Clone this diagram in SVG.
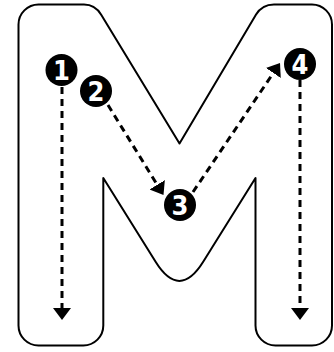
<svg xmlns="http://www.w3.org/2000/svg" width="334" height="352" viewBox="0 0 334 352">
<style>
.outline{fill:#fff;stroke:#000;stroke-width:2;stroke-linejoin:round}
.dash{fill:none;stroke:#000;stroke-width:3;stroke-dasharray:7 5}
.dot{fill:#000}
.num{fill:#fff;font-family:"DejaVu Sans",sans-serif;font-weight:bold;font-stretch:condensed;font-size:27px;text-anchor:middle}
</style>
<defs>
<marker id="ah" markerUnits="userSpaceOnUse" markerWidth="14" markerHeight="20" refX="0" refY="9" orient="auto" viewBox="0 0 14 18">
<path d="M0,0 L12,9 L0,18 Z" fill="#000"/>
</marker>
</defs>
<g id="letter-m">
<path class="outline" d="M18.5 325.5 L18.5 24.5 A20 20 0 0 1 38.5 4.5 L84 4.5 Q95 4.5 101.2 14.7 L179.5 143.5 L255.9 14.8 Q262 4.5 274 4.5 L312 4.5 A20 20 0 0 1 332 24.5 L332 325.5 A20 20 0 0 1 312 345.5 L275.5 345.5 A20 20 0 0 1 255.5 325.5 L255.5 178 L203.2 261.8 Q179.4 300 155.6 261.8 L103.3 178 L103.3 325.5 A20 20 0 0 1 83.3 345.5 L38.5 345.5 A20 20 0 0 1 18.5 325.5 Z"/>
</g>
<g id="connectors">
<line class="dash" x1="62" y1="87" x2="62" y2="308" marker-end="url(#ah)"/>
<line class="dash" x1="108" y1="105" x2="157.2" y2="184.8" marker-end="url(#ah)"/>
<line class="dash" x1="193" y1="192" x2="273.3" y2="73" marker-end="url(#ah)"/>
<line class="dash" x1="300" y1="80" x2="300" y2="308" marker-end="url(#ah)"/>
</g>
<g id="node-1"><circle class="dot" cx="61.5" cy="70" r="16"/><text class="num" x="61.5" y="80">1</text></g>
<g id="node-2"><circle class="dot" cx="96" cy="91" r="16"/><text class="num" x="96" y="101">2</text></g>
<g id="node-3"><circle class="dot" cx="180" cy="205" r="16"/><text class="num" x="180" y="215">3</text></g>
<g id="node-4"><circle class="dot" cx="300" cy="64" r="16"/><text class="num" x="300" y="74">4</text></g>
</svg>
